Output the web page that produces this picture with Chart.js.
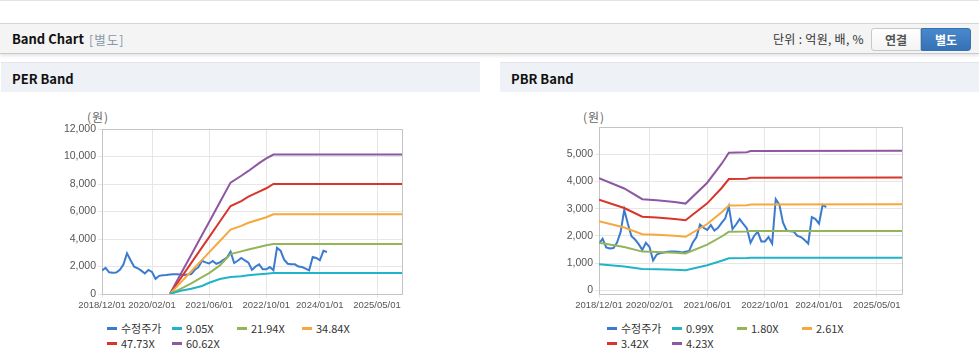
<!DOCTYPE html>
<html><head><meta charset="utf-8">
<script src="https://cdn.jsdelivr.net/npm/chart.js@4.4.1/dist/chart.umd.min.js"></script>
<style>
html,body{margin:0;padding:0;background:#fff;width:979px;height:361px;overflow:hidden;font-family:"Noto Sans CJK KR","Liberation Sans",sans-serif;}
.abs{position:absolute;}
#topline{left:0;top:0;width:979px;height:1px;background:#e2e2e2;}
#bar{left:0;top:23px;width:979px;height:29px;background:#f4f4f4;border-top:1px solid #d6d6d6;border-bottom:1px solid #c9c9c9;box-shadow:0 2px 3px rgba(0,0,0,0.10);}
#bar .title{left:12px;top:5px;font-size:13px;font-weight:bold;color:#111;}
#bar .sub{left:89px;top:6px;font-size:12.5px;color:#8797aa;letter-spacing:1px;}
#bar .unit{left:773px;top:6px;font-size:12px;color:#333;letter-spacing:0.3px;}
.btn{top:4px;width:48px;height:21px;font-size:12px;font-weight:bold;text-align:center;line-height:21px;}
#b1{left:871px;background:linear-gradient(#ffffff,#f3f3f3);border:1px solid #c8c8c8;border-radius:3px 0 0 3px;color:#555;}
#b2{left:921px;background:linear-gradient(#4a88cc,#3571b5);border:1px solid #3571b5;border-radius:0 3px 3px 0;color:#fff;}
.phead{top:62px;height:29px;background:#eef2f7;border-top:1px solid #e2e6ec;}
.phead span{position:absolute;left:11px;top:6px;font-size:13px;font-weight:bold;color:#111;}
.unitlbl{top:108px;font-size:12px;color:#666;letter-spacing:1px;}
canvas{position:absolute;}
.leg{position:absolute;font-size:11px;color:#333;height:15px;line-height:15px;white-space:nowrap;}
.leg i{position:absolute;left:0;top:6px;width:10px;height:3px;}
.leg b{position:absolute;left:14px;top:0;font-weight:normal;}
</style></head><body>
<div id="topline" class="abs"></div>
<div id="bar" class="abs">
  <div class="abs title">Band Chart</div>
  <div class="abs sub">[별도]</div>
  <div class="abs unit">단위 : 억원, 배, %</div>
  <div id="b1" class="abs btn">연결</div>
  <div id="b2" class="abs btn">별도</div>
</div>
<div class="abs phead" style="left:1px;width:479px;"><span>PER Band</span></div>
<div class="abs phead" style="left:500px;width:479px;"><span>PBR Band</span></div>
<div class="abs unitlbl" style="left:87px;">(원)</div>
<div class="abs unitlbl" style="left:583px;">(원)</div>
<canvas id="per" width="480" height="225" style="left:0;top:92px;"></canvas>
<canvas id="pbr" width="479" height="225" style="left:500px;top:92px;"></canvas>
<div id="perLeg"></div>
<div id="pbrLeg"></div>
<script>
// ---- axis labels ----
const xTickLabels = ['2018/12/01','2020/02/01','2021/06/01','2022/10/01','2024/01/01','2025/05/01'];
const xStart = '2018/12';
const xEnd = '2025/12';

// ---- adjusted share price (monthly, from 2018/12) ----
const priceName = '수정주가';
const price = [1720,1900,1580,1540,1560,1760,2150,2960,2450,1990,1870,1700,1490,1750,1600,1100,
  1320,1370,1390,1420,1430,1430,1420,1390,1420,1450,1760,1950,2420,2300,2220,2400,2200,2300,
  2480,2650,3080,2250,2420,2620,2440,2280,1750,2000,2160,1800,1800,1960,1720,3350,3150,2500,
  2200,2170,2160,2000,1960,1850,1720,2690,2620,2450,3140,3060];

// ---- PER band ----
const perNames = ['9.05X','21.94X','34.84X','47.73X','60.62X'];
const perDates = ['2020/07','2020/10','2021/01','2021/04','2021/06','2021/09','2021/12','2022/03','2022/05','2022/08','2022/10','2022/12','2025/12'];
const per905  = [0, 240, 380, 580, 820,1090,1240,1290,1360,1430,1480,1530,1530];
const per2194 = [0, 380, 770,1230,1520,2080,2900,3100,3240,3420,3540,3640,3640];
const per3484 = [0, 830,1650,2480,3030,3850,4680,4950,5180,5420,5580,5800,5800];
const per4773 = [0,1130,2260,3390,4140,5270,6400,6760,7080,7450,7690,8000,8000];
const per6062 = [0,1430,2860,4290,5240,6670,8100,8600,8950,9520,9860,10140,10140];

// ---- PBR band ----
const pbrNames = ['0.99X','1.80X','2.61X','3.42X','4.23X'];
const pbrDates = ['2018/12','2019/07','2019/12','2020/04','2020/09','2020/12','2021/06','2021/10','2021/12','2022/05','2022/06','2025/12'];
const pbr099 = [ 964, 876, 784, 774, 760, 746, 926,1089,1184,1188,1198,1200];
const pbr180 = [1753,1593,1426,1408,1382,1357,1683,1980,2153,2160,2178,2182];
const pbr261 = [2542,2310,2067,2041,2004,1968,2440,2871,3122,3132,3158,3163];
const pbr342 = [3331,3027,2709,2674,2627,2579,3198,3762,4090,4104,4138,4145];
const pbr423 = [4120,3744,3350,3308,3249,3189,3955,4653,5059,5076,5118,5127];

// ---- y-axis tick labels (values) ----
const perYTicks = [0,2000,4000,6000,8000,10000,12000];
const pbrYTicks = [0,1000,2000,3000,4000,5000];

const colors = ['#3b7bcf','#22b3c8','#92b558','#f5a83c','#d8352b','#8e57a2'];

function toIdx(d){const p=d.split('/');return (+p[0]-2018)*12 + (+p[1]) - 12;}
const xMin = toIdx(xStart), xMax = toIdx(xEnd);
const tickIdx = xTickLabels.map(toIdx);
const tickMap = new Map(tickIdx.map((v,i)=>[v,xTickLabels[i]]));

Chart.defaults.font.family = "'Liberation Sans', Arial, sans-serif";
const gridC = '#e6e6e6', borderC = '#c4c4c4', textC = '#555';

function makeChart(id, names, dates, bands, yMin, yMax, yTicks, pad){
  const ds = [{label: priceName, data: price.map((v,i)=>({x:i,y:v})), borderColor: colors[0], order: 2}];
  bands.forEach((b,k)=>ds.push({label:names[k], data: b.map((v,i)=>({x:toIdx(dates[i]),y:v})), borderColor: colors[k+1], order: 1}));
  ds.forEach(d=>{d.borderWidth=2;d.pointRadius=0;d.tension=0;d.fill=false;d.backgroundColor=d.borderColor;});
  const shown = new Set(yTicks);
  return new Chart(document.getElementById(id), {
    type:'line',
    data:{datasets:ds},
    options:{
      responsive:false, animation:false, devicePixelRatio:1,
      layout:{padding:pad},
      plugins:{legend:{display:false}, tooltip:{enabled:false}},
      scales:{
        x:{type:'linear', min:xMin, max:xMax,
          afterBuildTicks:s=>{s.ticks=tickIdx.concat([xMax]).map(v=>({value:v}));},
          afterFit:s=>{s.height=20;},
          ticks:{autoSkip:false, maxRotation:0, padding:2, color:textC, font:{size:9.5},
            callback:v=>tickMap.has(v)?tickMap.get(v):''},
          grid:{color:c=>(c.tick&&c.tick.value===xMax)?borderC:gridC, tickLength:4,
            tickColor:c=>(c.tick&&c.tick.value===xMax)?'rgba(0,0,0,0)':gridC},
          border:{color:borderC}
        },
        y:{type:'linear', min:yMin, max:yMax,
          afterBuildTicks:s=>{s.ticks=yTicks.concat(yTicks.includes(yMax)?[]:[yMax]).map(v=>({value:v}));},
          afterFit:s=>{s.width=60;},
          ticks:{padding:2, color:textC, font:{size:10.5},
            callback:v=>shown.has(v)?v.toLocaleString('en-US'):''},
          grid:{color:c=>(c.tick&&c.tick.value===yMax)?borderC:gridC, tickLength:4,
            tickColor:c=>(c.tick&&shown.has(c.tick.value))?gridC:'rgba(0,0,0,0)'},
          border:{color:borderC}
        }
      }
    }
  });
}

function buildLegend(elId, chart, left, top){
  const host = document.getElementById(elId);
  const items = chart.data.datasets;
  items.forEach((d,i)=>{
    const row = Math.floor(i/4), col = i%4;
    const el = document.createElement('div');
    el.className='leg';
    el.style.left = (left + col*65) + 'px';
    el.style.top = (top + row*14.5) + 'px';
    el.innerHTML = '<i style="background:'+d.borderColor+'"></i><b>'+d.label+'</b>';
    host.appendChild(el);
  });
}

const perChart = makeChart('per', perNames, perDates, [per905,per2194,per3484,per4773,per6062], 0, 12000, perYTicks, {left:42, top:37, right:78, bottom:3});
const pbrChart = makeChart('pbr', pbrNames, pbrDates, [pbr099,pbr180,pbr261,pbr342,pbr423], -130, 6000, pbrYTicks, {left:39, top:35, right:77, bottom:3});
buildLegend('perLeg', perChart, 107, 321);
buildLegend('pbrLeg', pbrChart, 607, 321);
</script>
</body></html>
